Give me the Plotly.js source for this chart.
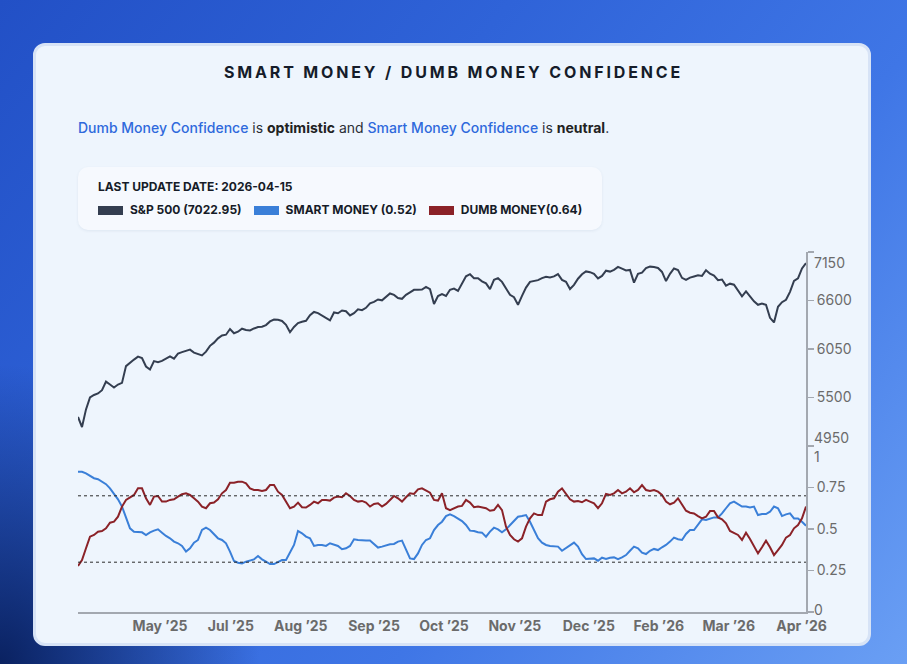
<!DOCTYPE html>
<html>
<head>
<meta charset="utf-8">
<script src="https://cdn.plot.ly/plotly-3.0.1.min.js"></script>
<style>
html,body{margin:0;padding:0;width:907px;height:664px;overflow:hidden;font-family:Inter,"Noto Sans",sans-serif;}
body{position:relative;background:
  radial-gradient(ellipse 260px 300px at 0% 100%, rgba(8,30,90,0.95) 0%, rgba(8,30,90,0) 100%),
  linear-gradient(130deg,#2250c6 0%,#2f63d8 35%,#3f76e6 65%,#6a9ff4 100%);}
#card{position:absolute;left:33px;top:43px;width:832px;height:597px;border:3px solid #d7e3f6;border-radius:12px;background:#eef5fd;}
#title{position:absolute;left:0;top:62px;width:907px;text-align:center;font-size:16px;font-weight:700;letter-spacing:2.85px;color:#151c2a;line-height:20px;}
#sub{position:absolute;left:78px;top:119px;font-size:14px;color:#2b2f36;line-height:18px;white-space:nowrap;}
#sub .hl{color:#2f69dc;font-weight:500;}
#sub b{font-weight:700;color:#222;}
#legbox{position:absolute;left:78px;top:167px;width:524px;height:63px;border-radius:10px;background:#f6f9fe;box-shadow:0 1px 3px rgba(40,60,100,0.08);}
#upd{position:absolute;left:20px;top:13px;font-size:12px;font-weight:700;color:#161c28;white-space:nowrap;line-height:14px;}
#row{position:absolute;left:20px;top:36px;display:flex;align-items:center;white-space:nowrap;font-size:12px;font-weight:700;color:#161c28;line-height:14px;}
.sw{display:inline-block;width:25px;height:9px;margin-right:7px;}
.it{margin-right:12px;}
#chart{position:absolute;left:0;top:0;width:907px;height:664px;}
</style>
</head>
<body>
<div id="card"></div>
<div id="title">SMART MONEY / DUMB MONEY CONFIDENCE</div>
<div id="sub"><span class="hl">Dumb Money Confidence</span> is <b>optimistic</b> and <span class="hl">Smart Money Confidence</span> is <b>neutral</b>.</div>
<div id="legbox">
  <div id="upd">LAST UPDATE DATE: 2026-04-15</div>
  <div id="row">
    <span class="sw" style="background:#343e50"></span><span class="it">S&amp;P 500 (7022.95)</span>
    <span class="sw" style="background:#3a7fd8"></span><span class="it">SMART MONEY (0.52)</span>
    <span class="sw" style="background:#8b2228"></span><span class="it">DUMB MONEY(0.64)</span>
  </div>
</div>
<div id="chart"></div>
<script>
const spx = [5280,5165,5365,5500,5529,5546,5583,5680,5647,5613,
5647,5666,5856,5896,5930,5964,5947,5851,5817,5913,
5901,5915,5941,5967,5941,5998,6014,6026,6043,6009,
5990,5977,6020,6086,6122,6171,6204,6212,6277,6229,
6246,6280,6265,6261,6283,6300,6303,6321,6363,6384,
6382,6368,6325,6240,6300,6344,6359,6370,6433,6470,
6457,6427,6404,6374,6464,6455,6487,6478,6431,6457,
6500,6491,6517,6568,6585,6612,6602,6636,6680,6664,
6628,6619,6664,6692,6721,6721,6725,6755,6729,6560,
6650,6672,6651,6721,6735,6709,6789,6874,6898,6853,
6852,6817,6794,6729,6834,6853,6811,6732,6664,6637,
6551,6653,6746,6811,6817,6831,6854,6868,6862,6873,
6899,6834,6812,6730,6777,6847,6898,6930,6921,6902,
6850,6879,6938,6928,6947,6981,6961,6941,6947,6803,
6902,6916,6967,6984,6980,6969,6924,6820,6902,6963,
6945,6857,6834,6860,6873,6885,6879,6943,6904,6883,
6830,6838,6769,6791,6779,6709,6648,6704,6642,6591,
6551,6565,6551,6404,6351,6529,6581,6608,6698,6822,
6851,6964,7022.95];

const smartMoney = [0.845,0.845,0.835,0.82,0.806,0.80,0.785,0.77,0.745,0.715,
0.679,0.635,0.564,0.504,0.484,0.48,0.48,0.464,0.48,0.49,
0.498,0.478,0.458,0.444,0.424,0.414,0.398,0.364,0.384,0.418,
0.434,0.494,0.508,0.494,0.47,0.444,0.434,0.414,0.364,0.307,
0.297,0.293,0.303,0.31,0.317,0.337,0.317,0.303,0.289,0.289,
0.303,0.313,0.313,0.357,0.404,0.488,0.474,0.454,0.444,0.398,
0.404,0.404,
0.398,0.414,0.404,0.398,0.378,0.384,0.398,0.438,0.434,0.43,
0.43,0.43,0.41,0.388,0.394,0.402,0.408,0.41,0.424,0.43,
0.373,0.323,0.319,0.353,0.404,0.434,0.444,0.494,0.524,0.544,
0.578,0.588,0.578,0.564,0.548,0.524,0.49,0.488,0.48,0.478,
0.454,0.484,0.508,0.498,0.48,0.498,0.524,0.548,0.574,0.578,
0.584,0.544,0.494,0.444,0.418,0.404,0.398,0.398,0.394,0.369,
0.384,
0.404,0.418,0.394,0.348,0.319,0.319,0.323,0.309,0.327,0.319,
0.327,0.329,0.319,0.329,0.343,0.369,0.394,0.384,0.357,0.349,
0.369,0.38,0.373,0.39,0.404,0.424,0.448,0.438,0.434,0.47,
0.494,0.494,0.524,0.558,0.554,0.564,0.57,0.57,0.594,0.625,
0.655,0.665,0.649,0.635,0.635,0.629,0.635,0.584,0.59,0.59,
0.604,0.635,0.625,0.578,0.588,0.594,0.564,0.564,0.544,0.52];

const dumbMoney = [0.277,0.313,0.384,0.454,0.464,0.484,0.488,0.504,0.538,0.544,
0.574,0.635,0.675,0.691,0.705,0.745,0.745,0.685,0.645,0.695,
0.699,0.665,0.665,0.675,0.679,0.695,0.709,0.715,0.705,0.685,
0.665,0.635,0.625,0.655,0.659,0.679,0.715,0.735,0.779,0.779,
0.785,0.785,0.775,0.745,0.735,0.735,0.729,0.735,0.765,0.765,
0.725,0.705,0.665,0.625,0.635,0.659,0.631,0.629,0.645,0.665,
0.655,0.675,
0.675,0.671,0.689,0.695,0.691,0.715,0.699,0.675,0.665,0.669,
0.659,0.635,0.651,0.655,0.635,0.651,0.675,0.699,0.685,0.665,
0.691,0.715,0.711,0.739,0.745,0.731,0.719,0.675,0.671,0.715,
0.625,0.614,0.625,0.635,0.639,0.675,0.659,0.631,0.635,0.629,
0.625,0.61,0.614,0.645,0.614,0.514,0.464,0.438,0.424,0.444,
0.514,0.564,0.594,0.584,0.584,0.665,0.679,0.685,0.725,0.745,
0.715,
0.679,0.665,0.669,0.661,0.675,0.665,0.655,0.625,0.655,0.711,
0.705,0.715,0.735,0.715,0.725,0.745,0.721,0.735,0.765,0.735,
0.729,0.735,0.725,0.705,0.665,0.649,0.659,0.685,0.645,0.61,
0.598,0.594,0.578,0.564,0.574,0.608,0.608,0.57,0.558,0.534,
0.488,0.478,0.464,0.434,0.478,0.44,0.394,0.353,0.39,0.43,
0.39,0.343,0.373,0.404,0.448,0.464,0.504,0.524,0.564,0.635];

const tickIdx = [20.5,38.2,55.7,74,91.5,109.2,127.7,145.2,162.7,180.9];
const tickLabels = ["May \u201925","Jul \u201925","Aug \u201925","Sep \u201925","Oct \u201925","Nov \u201925","Dec \u201925","Feb \u201926","Mar \u201926","Apr \u201926"];
const spxTicks = [4950,5500,6050,6600,7150];
const confTicks = [0,0.25,0.5,0.75,1];
const confTickText = ["","0.25","0.5","0.75",""];
const spxTickText = ["","5500","6050","6600",""];
const upperThreshold = 0.7, lowerThreshold = 0.3;

const idx = a => a.map((_, i) => i);
const axisGray = '#a3a8b0';
const tickFont = {family:'Inter, sans-serif', size:14, color:'#6b6b6b'};

const traces = [
  {x: idx(spx), y: spx, xaxis:'x', yaxis:'y2', type:'scatter', mode:'lines', line:{color:'#343e50', width:2}, name:'S&P 500'},
  {x: idx(smartMoney), y: smartMoney, xaxis:'x', yaxis:'y', type:'scatter', mode:'lines', line:{color:'#3a7fd8', width:2}, name:'Smart Money'},
  {x: idx(dumbMoney), y: dumbMoney, xaxis:'x', yaxis:'y', type:'scatter', mode:'lines', line:{color:'#8b2228', width:2}, name:'Dumb Money'}
];

const split = 166/360;
const endLabel = (text, yref, y, yshift) => ({text:String(text), xref:'paper', x:1, xanchor:'left', xshift:6,
  yref:yref, y:y, yshift:yshift, showarrow:false, font:tickFont});

const layout = {
  width:907, height:664,
  margin:{l:78, r:101, t:252, b:52, pad:0},
  paper_bgcolor:'rgba(0,0,0,0)', plot_bgcolor:'rgba(0,0,0,0)',
  showlegend:false,
  font:{family:'Inter, sans-serif', color:'#6b6b6b'},
  xaxis:{range:[0, spx.length-1], tickmode:'array', tickvals:tickIdx, ticktext:tickLabels,
    showline:true, linecolor:axisGray, linewidth:2, ticks:'', showgrid:false, zeroline:false,
    tickfont:{family:'Inter, sans-serif', size:14, color:'#6b6b6b', weight:700}, anchor:'y', fixedrange:true},
  yaxis:{domain:[0, split], range:[0,1], side:'right', anchor:'x', tickmode:'array', tickvals:confTicks, ticktext:confTickText,
    showline:true, linecolor:axisGray, linewidth:2, ticks:'outside', ticklen:6, tickwidth:1.5, tickcolor:axisGray,
    showgrid:false, zeroline:false, tickfont:tickFont},
  yaxis2:{domain:[split, 1], range:[4950,7150], side:'right', anchor:'x', tickmode:'array', tickvals:spxTicks, ticktext:spxTickText,
    showline:true, linecolor:axisGray, linewidth:2, ticks:'outside', ticklen:6, tickwidth:1.5, tickcolor:axisGray,
    showgrid:false, zeroline:false, tickfont:tickFont},
  shapes:[upperThreshold, lowerThreshold].map(v => ({type:'line', xref:'x domain', x0:0, x1:1, yref:'y', y0:v, y1:v,
    line:{color:'#2a2a2a', width:1, dash:'3px,3px'}})),
  annotations:[
    endLabel(spxTicks[4], 'y2', spxTicks[4], -10),
    endLabel(spxTicks[0], 'y2', spxTicks[0], 9),
    endLabel(confTicks[4], 'y', confTicks[4], -10),
    endLabel(confTicks[0], 'y', confTicks[0], 3)
  ]
};

Plotly.newPlot('chart', traces, layout, {displayModeBar:false, staticPlot:true});
</script>
</body>
</html>
